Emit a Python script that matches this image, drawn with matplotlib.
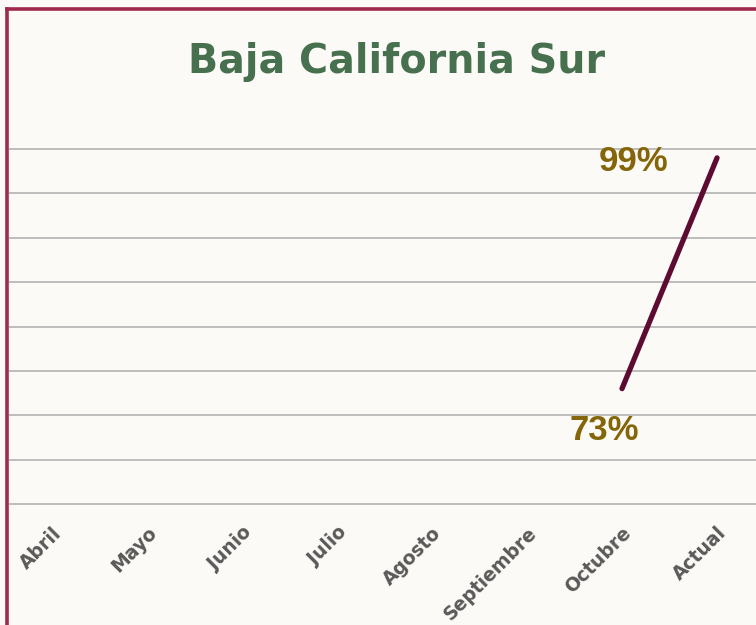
import matplotlib.pyplot as plt
from matplotlib.lines import Line2D

# data
months = ["Abril", "Mayo", "Junio", "Julio", "Agosto", "Septiembre", "Octubre", "Actual"]
avance = [None, None, None, None, None, None, 73, 99]
y_ticks = [60, 65, 70, 75, 80, 85, 90, 95, 100]

fig = plt.figure(figsize=(7.56, 6.25), dpi=100, facecolor="#fcfaf6")
ax = fig.add_axes([10 / 756, 121 / 625, 746 / 756, 355 / 625])
ax.set_facecolor("none")

xs = [i for i, v in enumerate(avance) if v is not None]
ys = [v for v in avance if v is not None]
ax.plot(xs, ys, color="#5e0b32", linewidth=3.8, solid_capstyle="round", zorder=3)

# value labels
ax.annotate(f"{ys[0]}%", (xs[0], ys[0]), xytext=(-18, -42), textcoords="offset pixels",
            ha="center", va="center", fontsize=25, fontweight="bold",
            color="#846508", family="Liberation Sans")
ax.annotate(f"{ys[1]}%", (xs[1], ys[1]), xytext=(-83, -4), textcoords="offset pixels",
            ha="center", va="center", fontsize=25, fontweight="bold",
            color="#846508", family="Liberation Sans")

ax.set_xlim(-0.44, 7.41)
ax.set_ylim(60, 100)
ax.set_yticks(y_ticks)
ax.set_yticklabels([])
ax.set_xticks(range(len(months)))
ax.set_xticklabels(months, rotation=45, ha="right", rotation_mode="anchor",
                   fontsize=13.5, fontweight="bold", color="#595959")
ax.tick_params(axis="both", length=0)
ax.tick_params(axis="x", pad=14)
ax.grid(axis="y", color="#bdbdbd", linewidth=1.4)
for gl in ax.get_ygridlines():
    gl.set_clip_on(False)
for s in ax.spines.values():
    s.set_visible(False)

fig.text(397 / 756, 1 - 62 / 625, "Baja California Sur", ha="center", va="center",
         fontsize=28.5, fontweight="bold", color="#47704f")

# frame
fig.add_artist(Line2D([7 / 756, 1], [1 - 9 / 625, 1 - 9 / 625], color="#a0294f", linewidth=2.6))
fig.add_artist(Line2D([7 / 756, 7 / 756], [0, 1 - 9 / 625], color="#a0294f", linewidth=2.6))

fig.savefig("out.png", dpi=100, facecolor=fig.get_facecolor())
